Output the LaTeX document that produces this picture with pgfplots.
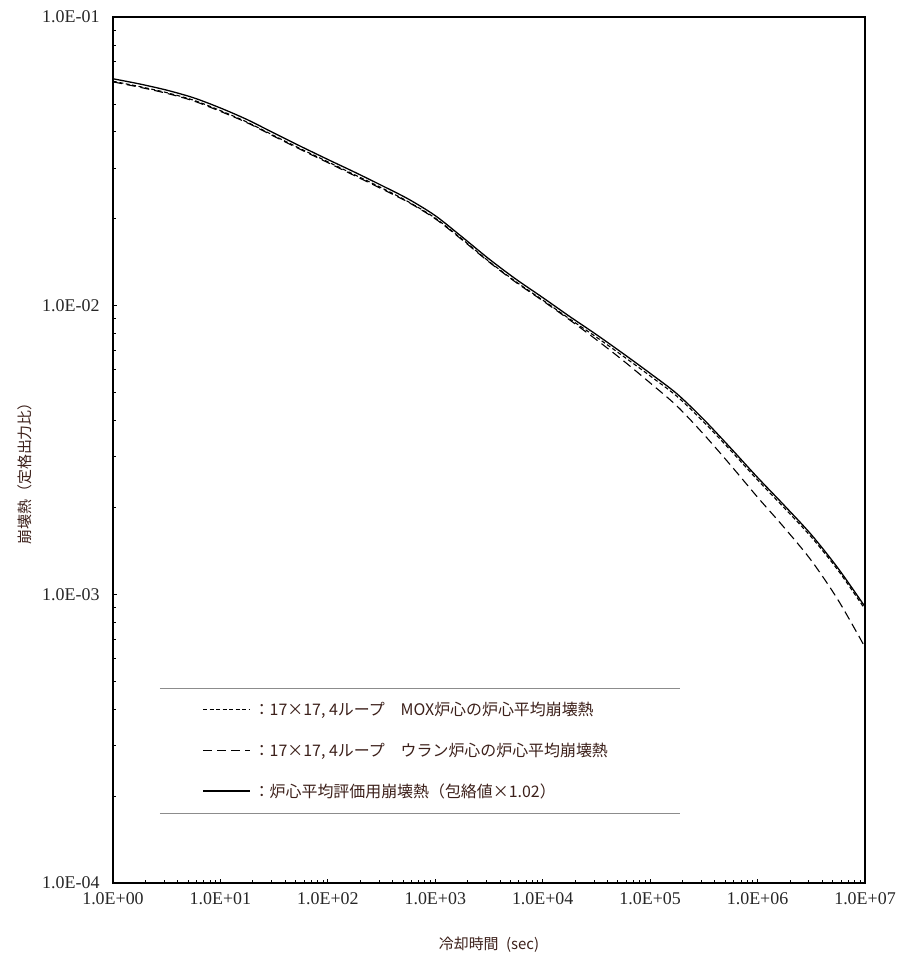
\documentclass[border=0pt]{standalone}
\usepackage{pgfplots}
\pgfplotsset{compat=1.18}
\usepackage{pgfplotstable}
\usepackage{fontspec}
\setmainfont{Liberation Serif}
\newfontfamily\cjk{Noto Sans CJK JP}
\definecolor{jp}{RGB}{60,32,26}

\pgfplotstableread{
t v
1 0.0611
1.778 0.0586
3.162 0.0558
5.623 0.0525
10 0.0484
17.78 0.0441
31.62 0.0396
56.23 0.0356
100 0.0321
177.8 0.0290
316.2 0.0261
562.3 0.0234
1000 0.0205
1778 0.0173
3162 0.01452
5623 0.01236
10000 0.01067
17783 0.00918
31623 0.00794
56234 0.00682
100000 0.00583
177828 0.00495
316228 0.00403
562341 0.00321
1000000 0.00254
1778279 0.00203
3162278 0.00161
5623413 0.00123
10000000 0.000906
}\envelope

\pgfplotstableread{
t v
1 0.0599
1.778 0.0574
3.162 0.0547
5.623 0.0515
10 0.0474
17.78 0.0432
31.62 0.0388
56.23 0.0349
100 0.0315
177.8 0.0284
316.2 0.0256
562.3 0.0229
1000 0.0201
1778 0.0170
3162 0.01423
5623 0.01211
10000 0.01046
17783 0.00900
31623 0.00778
56234 0.00668
100000 0.00571
177828 0.00485
316228 0.00395
562341 0.00315
1000000 0.00249
1778279 0.00199
3162278 0.00158
5623413 0.00121
10000000 0.000888
}\mox

\pgfplotstableread{
t v
1 0.0596
1.778 0.0571
3.162 0.0544
5.623 0.0512
10 0.0471
17.78 0.0430
31.62 0.0386
56.23 0.0347
100 0.0313
177.8 0.0282
316.2 0.0254
562.3 0.0228
1000 0.0200
1778 0.0169
3162 0.01417
5623 0.01205
10000 0.01040
17783 0.00893
31623 0.00762
56234 0.00645
100000 0.00540
177828 0.00449
316228 0.00358
562341 0.00280
1000000 0.00217
1778279 0.00170
3162278 0.00131
5623413 0.000955
10000000 0.000656
}\uran

\begin{document}
\begin{tikzpicture}
\path[use as bounding box] (-113bp,-89bp) rectangle (791bp,883bp);
\begin{axis}[
  scale only axis,
  width=752bp, height=866bp,
  xmode=log, ymode=log,
  xmin=1, xmax=1e7, ymin=1e-4, ymax=1e-1,
  axis line style={line width=1.2bp},
  tick pos=left,
  tick align=inside,
  major tick length=4bp,
  minor tick length=3bp,
  every tick/.style={black, line width=0.8bp},
  xtick={1,10,100,1000,10000,100000,1000000,10000000},
  xticklabels={1.0E+00,1.0E+01,1.0E+02,1.0E+03,1.0E+04,1.0E+05,1.0E+06,1.0E+07},
  ytick={1e-4,1e-3,1e-2,1e-1},
  yticklabels={1.0E-04,1.0E-03,1.0E-02,1.0E-01},
  ticklabel style={font=\fontsize{18}{20}\selectfont, text=black!85},
  xticklabel shift=6bp,
  yticklabel shift=10bp,
  xlabel={\cjk 冷却時間\hspace{0.5em}(sec)},
  ylabel={\cjk 崩壊熱（定格出力比）},
  xlabel style={font=\fontsize{15}{17}\selectfont, text=jp, at={(axis description cs:0.5,-0.0716)}, anchor=center},
  ylabel style={font=\fontsize{15}{17}\selectfont, text=jp, at={(axis description cs:-0.117,0.477)}, anchor=center},
  legend style={at={(axis description cs:0.1187,0.213)}, anchor=north west, draw=none, fill=none,
    font=\cjk\fontsize{16}{18}\selectfont, text=jp, row sep=20bp, inner sep=0pt,
    nodes={inner sep=3bp}},
  legend cell align=left,
  legend image code/.code={\draw[#1] (0bp,0bp) -- (47bp,0bp);},
]
\addplot[black, line width=1.1bp, dash pattern=on 4bp off 2.5bp, smooth] table[x=t,y=v] {\mox};
\addlegendentry{：17×17, 4ループ　MOX炉心の炉心平均崩壊熱}
\addplot[black, line width=1.1bp, dash pattern=on 9bp off 5bp, smooth] table[x=t,y=v] {\uran};
\addlegendentry{：17×17, 4ループ　ウラン炉心の炉心平均崩壊熱}
\addplot[black, line width=1.3bp, smooth] table[x=t,y=v] {\envelope};
\addlegendentry{：炉心平均評価用崩壊熱（包絡値×1.02）}
\draw[black!45, line width=0.9bp] (axis description cs:0.0625,0.2252) -- (axis description cs:0.754,0.2252);
\draw[black!45, line width=0.9bp] (axis description cs:0.0625,0.0808) -- (axis description cs:0.754,0.0808);
\end{axis}
\end{tikzpicture}
\end{document}
